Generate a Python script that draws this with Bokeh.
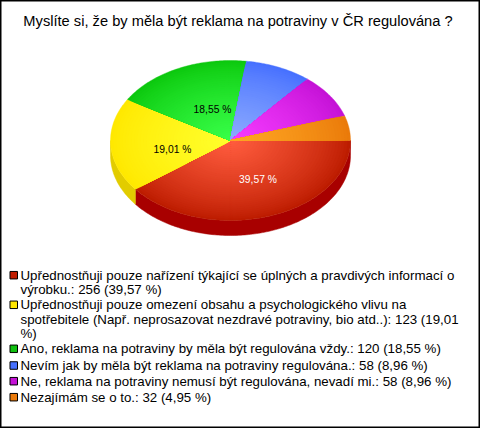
import math
from bokeh.plotting import figure
from bokeh.core.properties import value
from bokeh.embed import file_html
from bokeh.resources import INLINE
from bokeh.models import Range1d

title_text = "Myslíte si, že by měla být reklama na potraviny v ČR regulována ?"
counts = [256, 123, 120, 58, 58, 32]
percents = ["39,57 %", "19,01 %", "18,55 %", "8,96 %", "8,96 %", "4,95 %"]
legend_lines = [
    ["Upřednostňuji pouze nařízení týkající se úplných a pravdivých informací o",
     "výrobku.: 256 (39,57 %)"],
    ["Upřednostňuji pouze omezení obsahu a psychologického vlivu na",
     "spotřebitele (Např. neprosazovat nezdravé potraviny, bio atd..): 123 (19,01",
     "%)"],
    ["Ano, reklama na potraviny by měla být regulována vždy.: 120 (18,55 %)"],
    ["Nevím jak by měla být reklama na potraviny regulována.: 58 (8,96 %)"],
    ["Ne, reklama na potraviny nemusí být regulována, nevadí mi.: 58 (8,96 %)"],
    ["Nezajímám se o to.: 32 (4,95 %)"],
]
edge_colors = [(188, 28, 0), (255, 232, 0), (12, 200, 14), (70, 112, 255), (196, 18, 214), (234, 122, 10)]
center_colors = [(255, 92, 62), (255, 255, 44), (56, 255, 72), (140, 170, 255), (246, 60, 255), (255, 168, 36)]
side_colors = ["#a80000", "#e2cc00", "#0aa00a", "#3a5ad0", "#a010b0", "#c06000"]
swatch_colors = ["#c01c00", "#ffe600", "#10c010", "#4670ff", "#c412d6", "#ea7a0a"]

W, H = 480, 428
CX, CY, RX, RY, DEPTH = 230, 140, 120, 80, 15
LABEL_ANCHORS = {0: (257.5, 179, "white"), 1: (172, 148.5, "black"), 2: (212, 108.5, "black")}
LEGEND_X, SWATCH_X, SWATCH_SIZE = 20, 9.5, 7.5
LINE_Y = [[274.7, 289], [304.3, 319, 333.3], [348.3], [365], [380.7], [396.7]]
STEPS = 40

p = figure(width=W, height=H, x_range=Range1d(0, W), y_range=Range1d(H, 0),
           output_backend="svg", toolbar_location=None, min_border=0,
           x_axis_type="linear", y_axis_type="linear")
p.axis.visible = False
p.grid.visible = False
p.outline_line_color = "black"
p.outline_line_width = 2
p.background_fill_color = "white"

total = sum(counts)
bounds = [0.0]
for c in counts:
    bounds.append(bounds[-1] + c / total * 2 * math.pi)

def arc(a0, a1, f=1.0, dy=0.0):
    n = max(2, int((a1 - a0) * 60))
    xs, ys = [], []
    for i in range(n + 1):
        a = a0 + (a1 - a0) * i / n
        xs.append(CX + RX * f * math.cos(a))
        ys.append(CY + dy + RY * f * math.sin(a))
    return xs, ys

# rim: only the front half of the pie is visible
for i in range(len(counts)):
    a0, a1 = bounds[i], min(bounds[i + 1], math.pi)
    if a0 >= math.pi:
        continue
    xt, yt = arc(a0, a1)
    xb, yb = arc(a0, a1, dy=DEPTH)
    p.patch(xt + xb[::-1], yt + yb[::-1], fill_color=side_colors[i],
            line_color=side_colors[i], line_width=0.5)

# top: each slice as nested wedges stepping from its rim colour to its centre colour
for i in range(len(counts)):
    xs_all, ys_all, cols = [], [], []
    for k in range(STEPS):
        f = 1 - k / STEPS
        t = (k / (STEPS - 1)) ** 0.8
        x, y = arc(bounds[i], bounds[i + 1], f)
        xs_all.append([CX] + x)
        ys_all.append([CY] + y)
        e, c = edge_colors[i], center_colors[i]
        cols.append("#%02x%02x%02x" % tuple(round(e[j] + (c[j] - e[j]) * t) for j in range(3)))
    p.patches(xs_all, ys_all, fill_color=cols, line_color=cols, line_width=0.4)

for i, (x, y, col) in LABEL_ANCHORS.items():
    p.text([x], [y], text=[percents[i]], text_font=value("Liberation Sans"), text_font_size="10.3px",
           text_color=col, text_align="center", text_baseline="middle")

p.text([237.5], [20], text=[title_text], text_font=value("Liberation Sans"), text_font_size="14.67px",
       text_color="black", text_align="center", text_baseline="middle")

for i, lines in enumerate(legend_lines):
    p.rect([SWATCH_X + SWATCH_SIZE / 2], [LINE_Y[i][0]], width=SWATCH_SIZE, height=SWATCH_SIZE,
           fill_color=swatch_colors[i], line_color="black", line_width=1)
    p.text([LEGEND_X] * len(lines), LINE_Y[i], text=lines, text_font=value("Liberation Sans"),
           text_font_size="13.3px", text_color="black", text_align="left", text_baseline="middle")

open("out.html", "w").write(file_html(p, INLINE))
